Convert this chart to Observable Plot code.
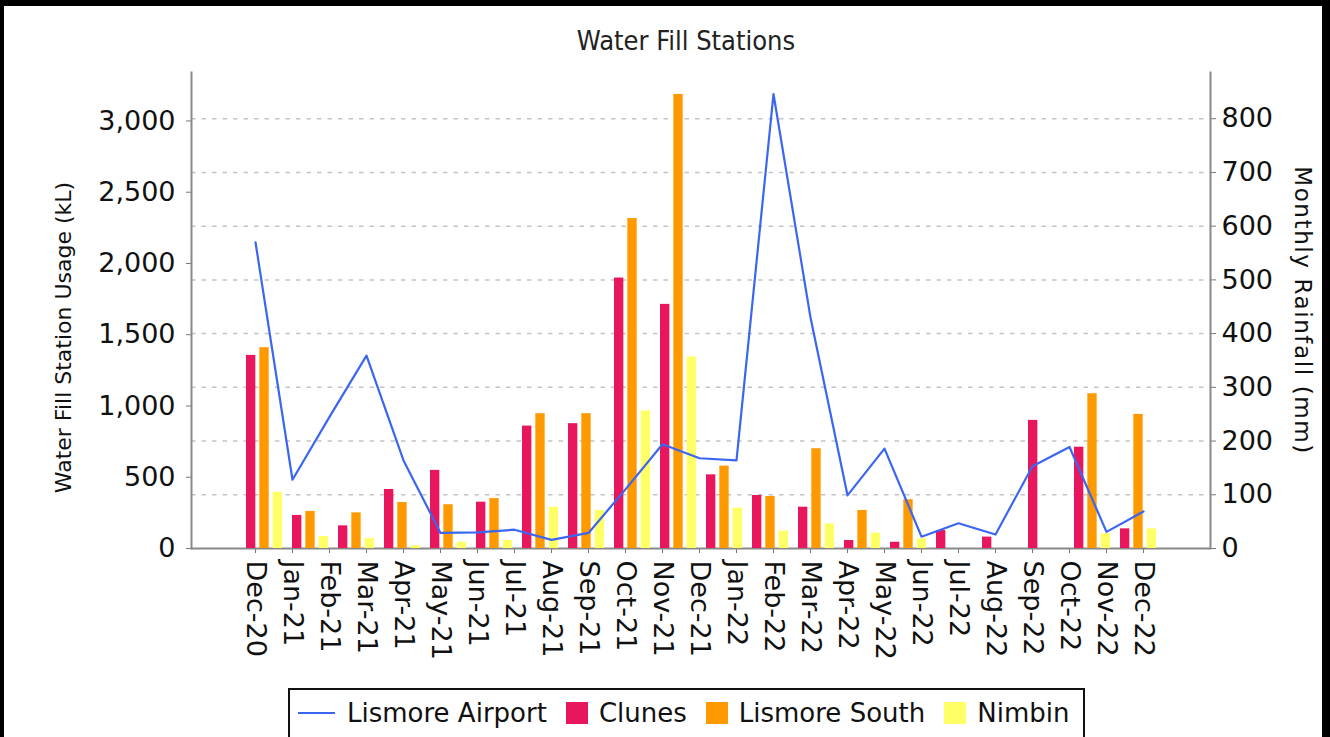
<!DOCTYPE html>
<html>
<head>
<meta charset="utf-8">
<script src="https://cdn.jsdelivr.net/npm/d3@7"></script>
<script src="https://cdn.jsdelivr.net/npm/@observablehq/plot@0.6"></script>
<style>
html, body { margin: 0; padding: 0; background: #fff; }
#page { position: relative; width: 1330px; height: 737px; overflow: hidden; background: #fff; font-family: "DejaVu Sans", sans-serif; }
#border { position: absolute; left: 0; top: 0; width: 1330px; height: 780px; box-sizing: border-box; border-top: 6px solid #000; border-left: 4px solid #000; border-right: 8px solid #000; pointer-events: none; z-index: 10; }
.layer { position: absolute; left: 0; top: 0; }
#title { position: absolute; top: 25px; left: 686px; transform: translateX(-50%); white-space: nowrap; font-family: "DejaVu Sans Condensed", "DejaVu Sans", sans-serif; font-size: 27px; color: #222; z-index: 5; }
#legend { position: absolute; left: 288px; top: 688px; width: 797px; height: 60px; box-sizing: border-box; border: 2px solid #111; padding-left: 8px; z-index: 5; }
#legend .row { display: flex; flex-wrap: nowrap; align-items: center; height: 46px; white-space: nowrap; }
#legend .item { display: flex; flex-shrink: 0; align-items: center; margin-right: 19px; white-space: nowrap; }
#legend .sw { width: 22px; height: 22px; margin-right: 11px; flex-shrink: 0; }
#legend .ln { width: 37px; height: 2px; margin-right: 12px; flex-shrink: 0; }
#legend .lbl { font-family: "DejaVu Sans", sans-serif; font-size: 26px; color: #111; line-height: 1; white-space: nowrap; }
</style>
</head>
<body>
<div id="page">
  <div id="border"></div>
  <div id="title"></div>
  <div id="legend"><div class="row" id="legendRow"></div></div>
</div>
<script>
// ---- Data ----
const chartTitle = "Water Fill Stations";
const leftAxisLabel = "Water Fill Station Usage (kL)";
const rightAxisLabel = "Monthly Rainfall (mm)";

const months = ["Dec-20","Jan-21","Feb-21","Mar-21","Apr-21","May-21","Jun-21","Jul-21","Aug-21","Sep-21","Oct-21","Nov-21","Dec-21","Jan-22","Feb-22","Mar-22","Apr-22","May-22","Jun-22","Jul-22","Aug-22","Sep-22","Oct-22","Nov-22","Dec-22"];
// Lismore Airport monthly rainfall (mm), one per month label
const lismoreAirport = [570,128,245,359,164,29,30,35,16,29,110,194,168,164,846,430,99,186,22,47,26,153,189,31,69];

// Bar groups (drawn on their own evenly spaced category axis, 20 groups)
const barGroups = ["1","2","3","4","5","6","7","8","9","10","11","12","13","14","15","16","17","18","19","20"];
const clunes       = [1355,232,159,414,548,325,859,876,1898,1713,517,372,290,56,44,126,80,899,711,138];
const lismoreSouth = [1409,260,250,323,307,350,946,946,2315,3186,578,365,700,267,342,0,0,0,1086,941];
const nimbin       = [395,84,70,20,44,56,290,267,965,1344,283,122,173,108,68,0,0,0,103,138];

const seriesNames  = ["Lismore Airport","Clunes","Lismore South","Nimbin"];
const seriesColors = ["#3a66f0","#e8175d","#ff9900","#ffff66"];
const leftTicks  = [0,500,1000,1500,2000,2500,3000];
const rightTicks = [0,100,200,300,400,500,600,700,800];
const leftMax = 3340, rightMax = 886;

// ---- Layout ----
const W = 1330, H = 690;
const mL = 191, mR = 120, mT = 72, mB = H - 548;
const baseStyle = {background: "transparent", fontFamily: "DejaVu Sans", fontSize: "27px", overflow: "visible", color: "#222"};

document.getElementById("title").textContent = chartTitle;

// Tables
const lineRows = months.map((m, i) => ({month: m, rain: lismoreAirport[i]}));
const barRows = barGroups.map((g, i) => ({group: g, Clunes: clunes[i], "Lismore South": lismoreSouth[i], Nimbin: nimbin[i]}));
const barSeries = seriesNames.slice(1);

const xPoint = {type: "point", domain: months, padding: 0, insetLeft: 64, insetRight: 67};

// Layer 1: grid, x axis, right axis
const layer1 = Plot.plot({
  width: W, height: H, marginLeft: mL, marginRight: mR, marginTop: mT, marginBottom: mB,
  style: {...baseStyle, background: "#fff"},
  x: {...xPoint, axis: null},
  y: {domain: [0, rightMax], axis: null},
  marks: [
    Plot.gridY(rightTicks.filter(d => d > 0), {stroke: "#c4c4c4", strokeOpacity: 1, strokeWidth: 1.5, strokeDasharray: "4.5,6"}),
    Plot.axisX({tickRotate: 90, tickSize: 5, tickPadding: 7, stroke: "#777", fill: "#111", label: null}),
    Plot.axisY({anchor: "right", ticks: rightTicks, tickSize: 5, tickPadding: 6, stroke: "#777", fill: "#111", label: null}),
    Plot.ruleY([0], {stroke: "#888", strokeWidth: 2}),
    Plot.frame({anchor: "right", stroke: "#888", strokeWidth: 2}),
    Plot.text([rightAxisLabel], {frameAnchor: "right", rotate: 90, dx: 92, textAnchor: "middle", lineAnchor: "middle", fontSize: 23, fill: "#111"})
  ]
});
// widen the right axis title's tracking as in the reference
layer1.querySelectorAll("text").forEach(t => {
  if (t.textContent === rightAxisLabel) t.setAttribute("letter-spacing", "1.6");
});

// Layer 2: bars + left axis
const nG = barGroups.length, pIn = 0.224, pOut = 1.1;
const step = (W - mL - mR) / (nG - pIn + 2 * pOut);
const bw = step * (1 - pIn);
const sub = d3.scaleBand().domain(barSeries).range([0, bw]).paddingInner(0.3).paddingOuter(0);

const layer2 = Plot.plot({
  width: W, height: H, marginLeft: mL, marginRight: mR, marginTop: mT, marginBottom: mB,
  style: baseStyle,
  x: {type: "band", domain: barGroups, paddingInner: pIn, paddingOuter: pOut, axis: null},
  y: {domain: [0, leftMax], axis: null},
  marks: [
    ...barSeries.map((s, k) => Plot.barY(barRows, {
      x: "group", y: s, fill: seriesColors[k + 1],
      insetLeft: sub(s), insetRight: bw - sub(s) - sub.bandwidth()
    })),
    Plot.axisY({ticks: leftTicks, tickFormat: d3.format(","), tickSize: 5, tickPadding: 11, stroke: "#777", fill: "#111", label: null}),
    Plot.frame({anchor: "left", stroke: "#888", strokeWidth: 2}),
    Plot.text([leftAxisLabel], {frameAnchor: "left", rotate: -90, dx: -128, dy: 27, textAnchor: "middle", lineAnchor: "middle", fontSize: 22, fill: "#111"})
  ]
});

// Layer 3: line
const layer3 = Plot.plot({
  width: W, height: H, marginLeft: mL, marginRight: mR, marginTop: mT, marginBottom: mB,
  style: baseStyle,
  x: {...xPoint, axis: null},
  y: {domain: [0, rightMax], axis: null},
  marks: [
    Plot.line(lineRows, {x: "month", y: "rain", stroke: seriesColors[0], strokeWidth: 2.2})
  ]
});

const page = document.getElementById("page");
[layer1, layer2, layer3].forEach((svg, i) => {
  svg.classList.add("layer");
  svg.style.position = "absolute";
  svg.style.left = "0px";
  svg.style.top = "0px";
  svg.style.zIndex = String(i + 1);
  page.appendChild(svg);
});

// Legend
const row = document.getElementById("legendRow");
seriesNames.forEach((name, i) => {
  const item = document.createElement("div");
  item.className = "item";
  const sw = document.createElement("div");
  sw.className = i === 0 ? "ln" : "sw";
  sw.style.background = seriesColors[i];
  const lbl = document.createElement("span");
  lbl.className = "lbl";
  lbl.textContent = name;
  item.appendChild(sw);
  item.appendChild(lbl);
  row.appendChild(item);
});
</script>
</body>
</html>
